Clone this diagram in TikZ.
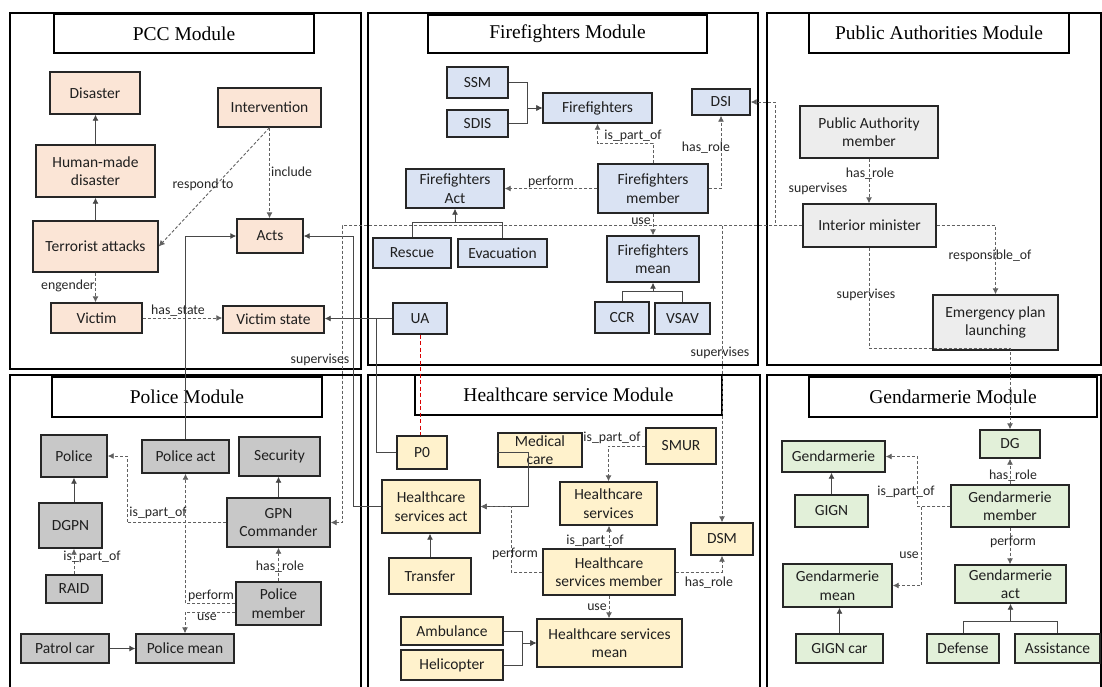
\documentclass[tikz,border=0pt]{standalone}
\usepackage{fontspec}
\setmainfont{Carlito}
\newfontfamily\ttlfont{Liberation Serif}
\usetikzlibrary{arrows.meta,calc}
\definecolor{cpcc}{HTML}{FBE5D6}
\definecolor{cff}{HTML}{DAE3F3}
\definecolor{cpa}{HTML}{EDEDED}
\definecolor{cpol}{HTML}{C8C8C8}
\definecolor{chc}{HTML}{FFF2CC}
\definecolor{cgd}{HTML}{E2F0D9}
\newcommand\BX[7]{\node[#6, minimum width={(#4)-(#2)}, minimum height={(#5)-(#3)}] (#1) at ({((#2)+(#4))/2},{((#3)+(#5))/2}) {#7};}
\tikzset{
 box/.style={draw=black!85, line width=1.4pt, align=center, inner sep=1pt, text=black!88, font=\fontsize{15.5}{18.5}\selectfont},
 pcc/.style={box, fill=cpcc},
 ffb/.style={box, fill=cff},
 pab/.style={box, fill=cpa},
 polb/.style={box, fill=cpol},
 hcb/.style={box, fill=chc},
 gdb/.style={box, fill=cgd},
 titlebox/.style={draw=black, line width=1.3pt, fill=white, inner sep=1pt, font=\ttlfont\fontsize{19.5}{22}\selectfont},
 frame/.style={draw=black, line width=1.5pt},
 sol/.style={draw=black!72, line width=0.9pt},
 dsh/.style={draw=black!62, line width=0.9pt, dash pattern=on 3pt off 2pt},
 arr/.style={-{Latex[length=6pt,width=6pt]}},
 lbl/.style={font=\fontsize{13.8}{16}\selectfont, inner sep=0pt, text=black!85},
}
\begin{document}
\begin{tikzpicture}[x=1pt,y=-1pt]
\clip (0,0) rectangle (1102,686);
\fill[white] (0,0) rectangle (1102,686);
% module frames
\draw[frame] (10,13) rectangle (361,369);
\draw[frame] (368,13) rectangle (758,365);
\draw[frame] (767,13) rectangle (1101,365);
\draw[frame] (10,375) rectangle (361,690);
\draw[frame] (368,375) rectangle (760,690);
\draw[frame] (767,375) rectangle (1101,690);
% titles
\BX{tpcc}{54}{14}{314}{53}{titlebox}{PCC Module}
\BX{tff}{428}{15}{707}{53}{titlebox}{Firefighters Module}
\BX{tpa}{809}{13}{1069}{53}{titlebox}{Public Authorities Module}
\BX{tpol}{52}{377}{322}{417}{titlebox}{Police Module}
\BX{thc}{415}{375}{722}{415}{titlebox}{Healthcare service Module}
\BX{tgd}{809}{377}{1097}{417}{titlebox}{Gendarmerie Module}
% PCC
\BX{disaster}{50}{72}{140}{114}{pcc}{Disaster}
\BX{human}{36}{145}{155}{197}{pcc}{Human-made\\disaster}
\BX{terror}{33}{221}{158}{272}{pcc}{Terrorist attacks}
\BX{victim}{51}{303}{142}{333}{pcc}{Victim}
\BX{interv}{218}{88}{321}{127}{pcc}{Intervention}
\BX{acts}{237}{219}{303}{253}{pcc}{Acts}
\BX{vstate}{223}{306}{324}{333}{pcc}{Victim state}
% Firefighters
\BX{ssm}{447}{67}{508}{98}{ffb}{SSM}
\BX{sdis}{447}{110}{508}{137}{ffb}{SDIS}
\BX{ff}{543}{93}{652}{123}{ffb}{Firefighters}
\BX{dsi}{692}{89}{750}{115}{ffb}{DSI}
\BX{ffa}{406}{169}{504}{208}{ffb}{Firefighters\\Act}
\BX{ffm}{598}{164}{708}{213}{ffb}{Firefighters\\member}
\BX{rescue}{373}{238}{451}{268}{ffb}{Rescue}
\BX{evac}{458}{239}{547}{267}{ffb}{Evacuation}
\BX{ffmean}{607}{236}{699}{282}{ffb}{Firefighters\\mean}
\BX{ccr}{595}{302}{649}{333}{ffb}{CCR}
\BX{vsav}{655}{303}{710}{334}{ffb}{VSAV}
\BX{ua}{393}{303}{447}{334}{ffb}{UA}
% Public authorities
\BX{pam}{800}{106}{938}{158}{pab}{Public Authority\\member}
\BX{im}{803}{204}{936}{247}{pab}{Interior minister}
\BX{epl}{933}{295}{1058}{350}{pab}{Emergency plan\\launching}
% Police
\BX{police}{41}{435}{107}{477}{polb}{Police}
\BX{pact}{142}{440}{229}{473}{polb}{Police act}
\BX{sec}{239}{437}{320}{476}{polb}{Security}
\BX{dgpn}{39}{503}{102}{548}{polb}{DGPN}
\BX{gpn}{227}{498}{330}{547}{polb}{GPN\\Commander}
\BX{raid}{46}{575}{102}{603}{polb}{RAID}
\BX{pm}{236}{582}{321}{625}{polb}{Police\\member}
\BX{patrol}{21}{634}{109}{663}{polb}{Patrol car}
\BX{pmean}{136}{634}{234}{663}{polb}{Police mean}
% Healthcare
\BX{p0}{397}{436}{447}{469}{hcb}{P0}
\BX{medcare}{498}{433}{582}{467}{hcb}{Medical\\care}
\BX{smur}{646}{428}{716}{464}{hcb}{SMUR}
\BX{hsa}{382}{480}{480}{533}{hcb}{Healthcare\\services act}
\BX{hs}{560}{482}{657}{525}{hcb}{Healthcare\\services}
\BX{dsm}{691}{523}{753}{555}{hcb}{DSM}
\BX{transfer}{389}{558}{471}{594}{hcb}{Transfer}
\BX{hsm}{543}{549}{675}{595}{hcb}{Healthcare\\services member}
\BX{amb}{401}{617}{503}{645}{hcb}{Ambulance}
\BX{heli}{401}{650}{503}{680}{hcb}{Helicopter}
\BX{hsmean}{537}{619}{682}{667}{hcb}{Healthcare services\\mean}
% Gendarmerie
\BX{dg}{980}{430}{1040}{458}{gdb}{DG}
\BX{gend}{782}{441}{885}{472}{gdb}{Gendarmerie}
\BX{gign}{795}{495}{868}{527}{gdb}{GIGN}
\BX{gm}{951}{485}{1069}{527}{gdb}{Gendarmerie\\member}
\BX{gmean}{783}{564}{892}{607}{gdb}{Gendarmerie\\mean}
\BX{gact}{955}{565}{1066}{603}{gdb}{Gendarmerie\\act}
\BX{gigncar}{796}{634}{883}{663}{gdb}{GIGN car}
\BX{defense}{927}{634}{999}{663}{gdb}{Defense}
\BX{assist}{1015}{634}{1100}{663}{gdb}{Assistance}
% ---- PCC connectors
\draw[sol,arr] (human.north) -- (human.north |- disaster.south);
\draw[sol,arr] (terror.north) -- (terror.north |- human.south);
\draw[dsh,arr] (terror.south) -- (terror.south |- victim.north);
\draw[dsh,arr] (victim.east) -- (victim.east -| vstate.west);
\draw[dsh,arr] (interv.south) -- (interv.south |- acts.north);
\draw[dsh,arr] (interv.south) -- (terror.east);
\node[lbl] (l1) at (68,286) {engender};
\node[lbl] (l2) at (178,311) {has\_state};
\node[lbl,anchor=west] (l3) at (271,172) {include};
\node[lbl] (l4) at (203,185) {respond to};
% cross-module solid
\draw[sol,arr] (pact.north) |- (acts.west);
\draw[sol,arr] (hsa.west) -- ++(-28,0) |- (acts.east);
\draw[sol,arr] (ua.west) -- (ua.west -| vstate.east);
\draw[sol] (p0.west) -| ($(ua.west)+(-16,0)$);
\draw[red!85!black, line width=1pt, dash pattern=on 4pt off 2.5pt] (ua.south) -- (ua.south |- p0.north);
% supervises network
\draw[dsh,arr] (im.west) -- ++(-460,0) |- (gpn.east);
\draw[dsh,arr] (im.west) -- ++(-27,0) |- (dsi.east);
\draw[dsh,arr] (im.west -| dsm.north) -- (dsm.north);
\draw[dsh,arr] (im.south) -- ++(0,101) -| (dg.north);
\draw[dsh,arr] (im.east) -| (epl.north);
\draw[dsh,arr] (pam.south) -- (pam.south |- im.north);
\node[lbl] (s1) at (320,360) {supervises};
\node[lbl] (s2) at (720,353) {supervises};
\node[lbl] (s3) at (818,189) {supervises};
\node[lbl] (s4) at (866,295) {supervises};
\node[lbl] (l5) at (870,174) {has\_role};
\node[lbl] (l6) at (990,256) {responsible\_of};
% Firefighters connectors
\draw[sol,arr] (ssm.east) -- ++(19,0) |- (ff.west);
\draw[sol,arr] (sdis.east) -- ++(19,0) |- (ff.west);
\draw[dsh,arr] (ffm.north) -- ++(0,-20) -| (ff.south);
\draw[dsh,arr] (ffm.east) -| (dsi.south);
\draw[dsh,arr] (ffm.west) -- (ffm.west -| ffa.east);
\draw[dsh,arr] (ffm.south) -- (ffm.south |- ffmean.north);
\draw[sol] (rescue.north) -- ++(0,-15) -| (evac.north);
\draw[sol,arr] (ffa.south |- rescue.north) ++(0,-15) -- (ffa.south);
\draw[sol] (ccr.north) -- ++(0,-10) -| (vsav.north);
\draw[sol,arr] (ffmean.south |- ccr.north) ++(0,-10) -- (ffmean.south);
\node[lbl] (l7) at (633,136) {is\_part\_of};
\node[lbl] (l8) at (706,148) {has\_role};
\node[lbl] (l9) at (551,182) {perform};
\node[lbl] (l10) at (641,221) {use};
% Police connectors
\draw[sol,arr] (police.south |- dgpn.north) -- (police.south);
\draw[dsh,arr] (raid.north) -- (raid.north |- dgpn.south);
\draw[sol,arr] (gpn.north) -- (gpn.north |- sec.south);
\draw[dsh,arr] (gpn.west) -- ++(-99,0) |- (police.east);
\draw[dsh,arr] (pm.north) -- (pm.north |- gpn.south);
\draw[dsh,arr] (pm.west) -| (pact.south);
\draw[dsh,arr] ([yshift=-9pt]pm.west) -| (pmean.north);
\draw[sol,arr] (patrol.east) -- (pmean.west);
\node[lbl] (l11) at (92,557) {is\_part\_of};
\node[lbl] (l12) at (158,513) {is\_part\_of};
\node[lbl] (l13) at (280,567) {has\_role};
\node[lbl] (l14) at (211,596) {perform};
\node[lbl] (l15) at (207,617) {use};
% Healthcare connectors
\draw[sol,arr] ([xshift=-12pt]medcare.south) |- (hsa.east);
\draw[sol] ([yshift=-2pt]medcare.west) -| ([xshift=-12pt]medcare.south);
\draw[dsh,arr] (smur.west) -| (hs.north);
\draw[dsh,arr] (hsm.north) -- (hsm.north |- hs.south);
\draw[dsh,arr] (hsm.west) -- ++(-31,0) |- (hsa.east);
\draw[dsh,arr] (hsm.east) -| (dsm.south);
\draw[dsh,arr] (hsm.south) -- (hsm.south |- hsmean.north);
\draw[sol,arr] (amb.east) -- ++(19,0) |- (hsmean.west);
\draw[sol,arr] (heli.east) -- ++(19,0) |- (hsmean.west);
\draw[sol,arr] (transfer.north) -- (transfer.north |- hsa.south);
\node[lbl] (l16) at (612,438) {is\_part\_of};
\node[lbl] (l17) at (595,541) {is\_part\_of};
\node[lbl] (l18) at (515,554) {perform};
\node[lbl] (l19) at (709,583) {has\_role};
\node[lbl] (l20) at (597,607) {use};
% Gendarmerie connectors
\draw[sol,arr] (gign.north) -- (gign.north |- gend.south);
\draw[sol,arr] (gigncar.north) -- (gigncar.north |- gmean.south);
\draw[dsh,arr] (gm.west) -- ++(-33,0) |- (gend.east);
\draw[dsh,arr] (gm.west) -- ++(-29,0) |- (gmean.east);
\draw[dsh,arr] (gm.north) -- (gm.north |- dg.south);
\draw[dsh,arr] (gm.south) -- (gm.south |- gact.north);
\draw[sol] (defense.north) -- ++(0,-12) -| (assist.north);
\draw[sol,arr] (gact.south |- defense.north) ++(0,-12) -- (gact.south);
\node[lbl] (l21) at (906,492) {is\_part\_of};
\node[lbl] (l22) at (909,555) {use};
\node[lbl] (l23) at (1013,476) {has\_role};
\node[lbl] (l24) at (1013,542) {perform};
\end{tikzpicture}
\end{document}
